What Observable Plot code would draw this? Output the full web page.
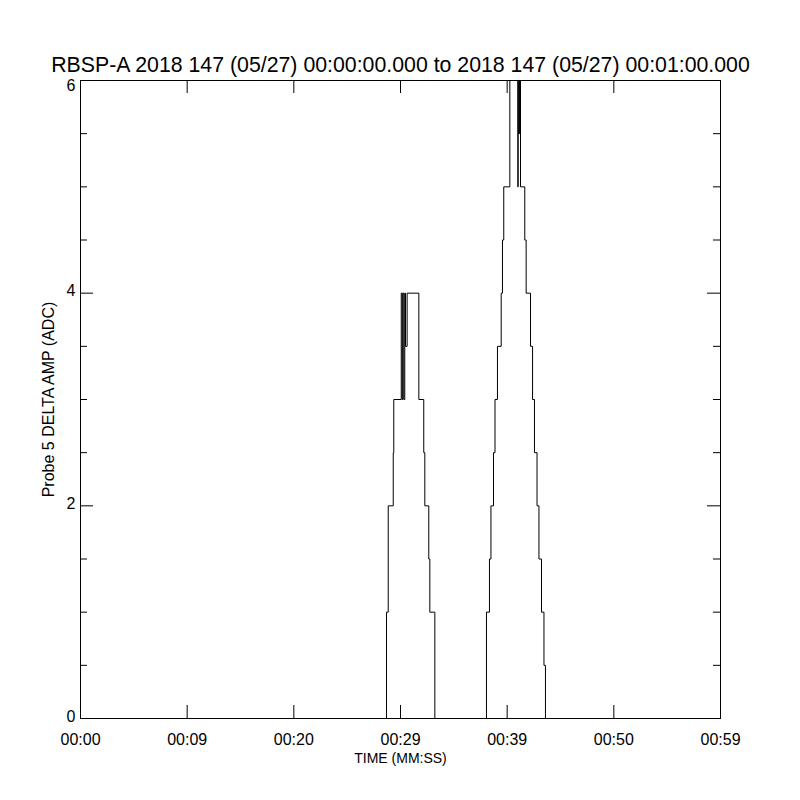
<!DOCTYPE html>
<html><head><meta charset="utf-8">
<script src="https://cdn.jsdelivr.net/npm/d3@7"></script>
<script src="https://cdn.jsdelivr.net/npm/@observablehq/plot@0.6"></script>
<style>body{margin:0;background:#fff} svg{display:block}</style>
</head><body><div id="chart"></div>
<script>
const titleText = "RBSP-A 2018 147 (05/27) 00:00:00.000 to 2018 147 (05/27) 00:01:00.000";
const xLabel = "TIME (MM:SS)";
const yLabel = "Probe 5 DELTA AMP (ADC)";
const xTickValues = [0, 10, 20, 30, 40, 50, 60];
const xTickLabels = ["00:00", "00:09", "00:20", "00:29", "00:39", "00:50", "00:59"];
const yMajorTicks = [0, 2, 4, 6];
const yMinorTicks = [0.5, 1, 1.5, 2.5, 3, 3.5, 4.5, 5, 5.5];

// time (s) at which the value changes, and the new value (step signal)
const times = [0,
  28.69, 28.85, 29.32, 29.37, 30.07, 30.16, 30.22, 30.31, 30.40, 30.47, 30.62, 31.72, 32.18, 32.28, 32.65, 32.75, 33.22,
  38.06, 38.34, 38.48, 38.72, 38.86, 39.09, 39.44, 39.56, 39.68, 40.25, 41.00, 41.03, 41.09, 41.13, 41.18, 41.22, 41.25,
  41.65, 41.78, 42.19, 42.38, 42.56, 42.80, 42.98, 43.22, 43.45, 43.59, 60];
const amps = [0,
  1, 2, 2.5, 3, 4, 3, 4, 3, 4, 3.5, 4, 3, 2.5, 2, 1.5, 1, 0,
  1, 1.5, 2, 2.5, 3, 3.5, 4, 4.5, 5, 6, 5, 6, 5.5, 6, 5.5, 6, 5,
  4.5, 4, 3.5, 3, 2.5, 2, 1.5, 1, 0.5, 0, 0];

const data = times.map((t, i) => ({t, v: amps[i]}));

const W = 800, H = 800, mL = 80, mR = 80, mT = 80, mB = 82;
const fh = H - mT - mB, fw = W - mL - mR;
const major = 13, minor = 7;
const font = "Liberation Sans, Arial, sans-serif";
const yMax = d3.max(yMajorTicks);

const chart = Plot.plot({
  width: W, height: H,
  marginLeft: mL, marginRight: mR, marginTop: mT, marginBottom: mB,
  style: {fontFamily: font, color: "black", background: "white"},
  x: {domain: [0, 60], axis: null},
  y: {domain: [0, 6], axis: null},
  marks: [
    Plot.frame({stroke: "black", strokeWidth: 1}),
    Plot.line(data, {x: "t", y: "v", curve: "step-after", stroke: "black", strokeWidth: 1}),
    // x ticks (bottom & top, inward)
    Plot.ruleX(xTickValues, {x: d => d, insetTop: fh - major, stroke: "black"}),
    Plot.ruleX(xTickValues, {x: d => d, insetBottom: fh - major, stroke: "black"}),
    // y ticks (left & right, inward)
    Plot.ruleY(yMajorTicks, {y: d => d, insetRight: fw - major, stroke: "black"}),
    Plot.ruleY(yMajorTicks, {y: d => d, insetLeft: fw - major, stroke: "black"}),
    Plot.ruleY(yMinorTicks, {y: d => d, insetRight: fw - minor, stroke: "black"}),
    Plot.ruleY(yMinorTicks, {y: d => d, insetLeft: fw - minor, stroke: "black"}),
    // tick labels
    Plot.text(xTickValues, {x: d => d, text: (d, i) => xTickLabels[i], frameAnchor: "bottom", lineAnchor: "top", dy: 15, fontSize: 16, fill: "black"}),
    Plot.text(yMajorTicks.filter(d => d < yMax), {y: d => d, text: d => String(d), frameAnchor: "left", textAnchor: "end", lineAnchor: "middle", dx: -5, dy: -2, fontSize: 16, fill: "black"}),
    Plot.text(yMajorTicks.filter(d => d === yMax), {y: d => d, text: d => String(d), frameAnchor: "left", textAnchor: "end", lineAnchor: "top", dx: -5, dy: -1, fontSize: 16, fill: "black"}),
    // titles
    Plot.text([titleText], {frameAnchor: "top", textAnchor: "middle", lineAnchor: "bottom", dy: -9, fontSize: 21.3, fill: "black"}),
    Plot.text([xLabel], {frameAnchor: "bottom", textAnchor: "middle", lineAnchor: "middle", dy: 40, fontSize: 14, fill: "black"}),
    Plot.text([yLabel], {frameAnchor: "left", textAnchor: "middle", lineAnchor: "middle", rotate: -90, dx: -32, fontSize: 16, fill: "black"})
  ]
});
document.getElementById("chart").appendChild(chart);
</script>
</body></html>
